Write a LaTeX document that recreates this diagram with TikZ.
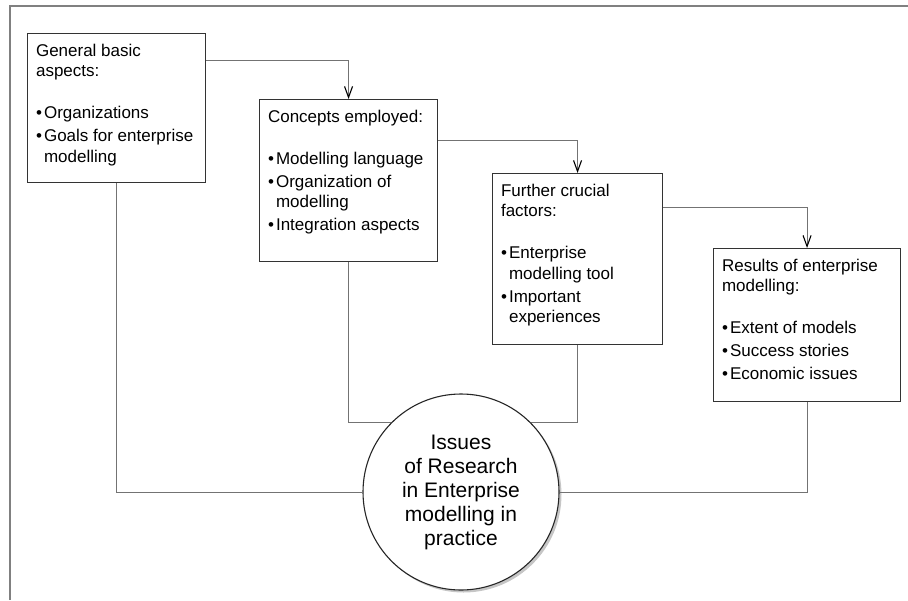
\documentclass[tikz,border=0pt]{standalone}
\usepackage{fontspec}
\setmainfont{Liberation Sans}
\usetikzlibrary{arrows.meta,shadows}
\long\def\itm#1{\par\vspace{2.5pt}\hangindent=8pt\hangafter=1\makebox[8pt][l]{\textbullet}#1}
\long\def\topic#1#2#3{\parbox[c][#2][t]{#1}{\raggedright\strut #3}}
\tikzset{
  topic/.style={draw=black!80, line width=1.1pt, fill=white, inner sep=8.5pt, anchor=north west, font=\fontsize{17}{20.5}\selectfont},
  issue/.style={circle, draw=black!85, line width=1.1pt, fill=white, minimum size=196pt, inner sep=0pt, align=center, font=\fontsize{21}{24}\selectfont, drop shadow={shadow xshift=2.5pt, shadow yshift=-2.5pt, opacity=0.45}},
  link/.style={draw=black!55, line width=0.9pt},
  flow/.style={link, -{Straight Barb[length=11pt, width=8pt, line width=1.1pt, color=black]}},
  frame/.style={draw=black!50, line width=2pt}
}

\begin{document}
\begin{tikzpicture}[x=1pt, y=-1pt]
		%%%%% START %%%%%
		\useasboundingbox (0, 0) rectangle (908, 600);
		\draw[frame] (10, 600) -- (10, 6) -- (908, 6);
		
		\node[topic] (basic) at (27, 33) {\topic{161pt}{132pt}{General basic\\aspects:\par\vspace{19pt}%
			\itm{Organizations}\itm{Goals for enterprise\newline modelling}}};
		\node[topic] (concepts) at (259, 99) {\topic{161pt}{145pt}{Concepts employed:\par\vspace{19pt}%
			\itm{Modelling language}\itm{Organization of\newline modelling}\itm{Integration aspects}}};
		\node[topic] (factors) at (492, 173) {\topic{153pt}{154pt}{Further crucial\\factors:\par\vspace{19pt}%
			\itm{Enterprise\newline modelling tool}\itm{Important\newline experiences}}};
		\node[topic] (results) at (713, 248) {\topic{170pt}{136pt}{Results of enterprise\\modelling:\par\vspace{19pt}%
			\itm{Extent of models}\itm{Success stories}\itm{Economic issues}}};
		
		\node[issue] (issues) at (461, 492) {Issues\\of Research\\in Enterprise\\modelling in\\practice};
		
		\draw[flow] ([yshift=-27pt]basic.north east) -| (concepts.north);
		\draw[flow] ([yshift=-41pt]concepts.north east) -| (factors.north);
		\draw[flow] ([yshift=-34pt]factors.north east) -| (results.north);
		
		\draw[link] (basic.south) |- (issues.west);
		\draw[link] (concepts.south) |- (issues.135);
		\draw[link] (factors.south) |- (issues.45);
		\draw[link] (results.south) |- (issues.east);
		
		%%%%% END %%%%%
	\end{tikzpicture}
\end{document}
